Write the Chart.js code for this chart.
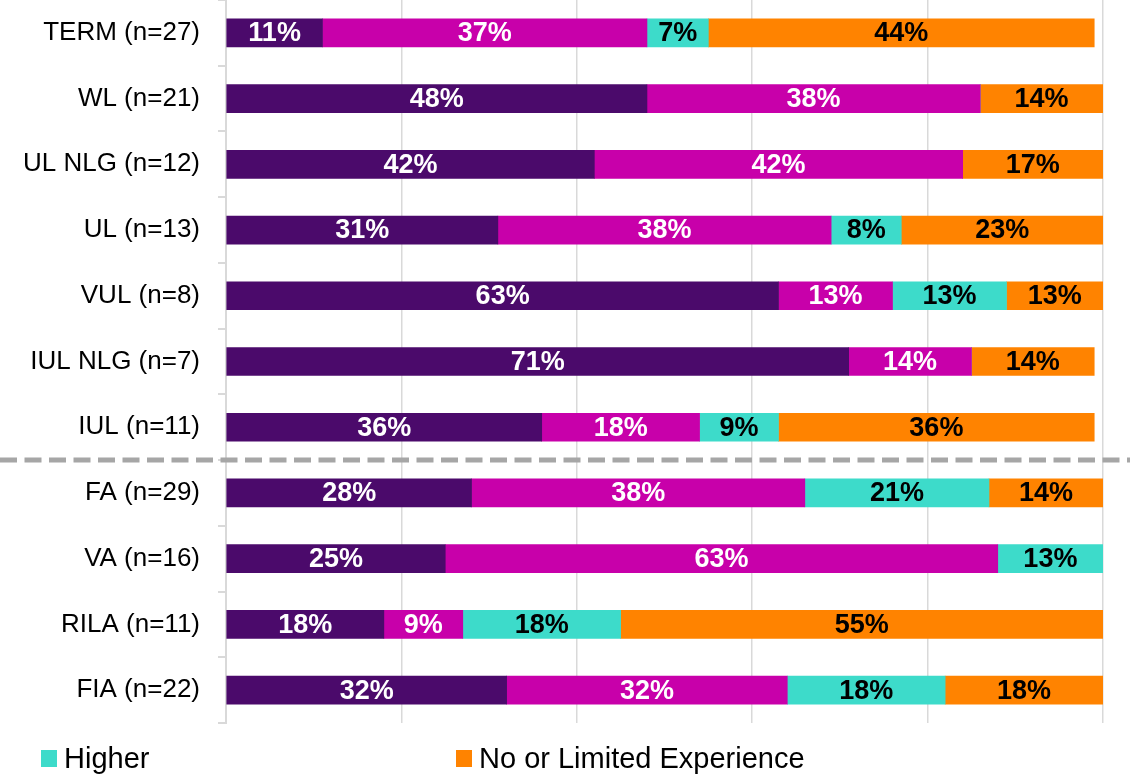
<!DOCTYPE html>
<html>
<head>
<meta charset="utf-8">
<script src="https://cdn.jsdelivr.net/npm/chart.js@4/dist/chart.umd.min.js"></script>
<style>
  html, body { margin: 0; padding: 0; background: #ffffff; }
  #wrap { width: 1130px; height: 774px; position: relative; }
</style>
</head>
<body>
<div id="wrap"><canvas id="chart" width="1130" height="774"></canvas></div>
<script>
// Product lines with respondent counts
const categories = [
  'TERM (n=27)', 'WL (n=21)', 'UL NLG (n=12)', 'UL (n=13)', 'VUL (n=8)',
  'IUL NLG (n=7)', 'IUL (n=11)', 'FA (n=29)', 'VA (n=16)', 'RILA (n=11)', 'FIA (n=22)'
];

// Share of respondents per answer (%)
const lowerShare  = [11, 48, 42, 31, 63, 71, 36, 28, 25, 18, 32];
const sameShare   = [37, 38, 42, 38, 13, 14, 18, 38, 63,  9, 32];
const higherShare = [ 7,  0,  0,  8, 13,  0,  9, 21, 13, 18, 18];
const noExpShare  = [44, 14, 17, 23, 13, 14, 36, 14,  0, 55, 18];

const xTicks = [0, 20, 40, 60, 80, 100];

// Index of the last life product; a dashed divider separates life from annuities
const lastLifeIndex = 6;

const FONT = '"Liberation Sans", Arial, sans-serif';

// Writes the percentage in the middle of each segment
const segmentLabels = {
  id: 'segmentLabels',
  afterDatasetsDraw(chart) {
    const ctx = chart.ctx;
    const area = chart.chartArea;
    ctx.save();
    ctx.font = 'bold 27px ' + FONT;
    ctx.textAlign = 'center';
    ctx.textBaseline = 'middle';
    chart.data.datasets.forEach((ds, di) => {
      const meta = chart.getDatasetMeta(di);
      if (meta.hidden) return;
      meta.data.forEach((el, i) => {
        const v = ds.data[i];
        if (!v) return;
        const p = el.getProps(['x', 'base', 'y'], true);
        const a = Math.max(Math.min(p.x, p.base), area.left);
        const b = Math.min(Math.max(p.x, p.base), area.right);
        ctx.fillStyle = ds.labelColor;
        ctx.fillText(v + '%', (a + b) / 2, p.y + 1);
      });
    });
    ctx.restore();
  }
};

// Dashed divider between life and annuity products
const groupDivider = {
  id: 'groupDivider',
  afterDraw(chart) {
    const y = chart.scales.y;
    const yy = (y.getPixelForValue(lastLifeIndex) + y.getPixelForValue(lastLifeIndex + 1)) / 2;
    const ctx = chart.ctx;
    ctx.save();
    ctx.strokeStyle = '#a6a6a6';
    ctx.lineWidth = 5;
    ctx.setLineDash([17, 7.5]);
    ctx.beginPath();
    ctx.moveTo(0, yy);
    ctx.lineTo(chart.width, yy);
    ctx.stroke();
    ctx.restore();
  }
};

// Bottom legend (only the two answer groups shown)
const bottomLegend = {
  id: 'bottomLegend',
  afterDraw(chart) {
    const ctx = chart.ctx;
    const items = [
      { ds: 2, box: 41, text: 64 },
      { ds: 3, box: 456, text: 479 }
    ];
    ctx.save();
    ctx.font = '29px ' + FONT;
    ctx.textAlign = 'left';
    ctx.textBaseline = 'alphabetic';
    items.forEach(it => {
      const ds = chart.data.datasets[it.ds];
      ctx.fillStyle = ds.backgroundColor;
      ctx.fillRect(it.box, 750, 16, 17);
      ctx.fillStyle = '#000000';
      ctx.fillText(ds.label, it.text, 768);
    });
    ctx.restore();
  }
};

new Chart(document.getElementById('chart'), {
  type: 'bar',
  data: {
    labels: categories,
    datasets: [
      { label: 'Lower', data: lowerShare, backgroundColor: '#4b0a6b', labelColor: '#ffffff' },
      { label: 'Same', data: sameShare, backgroundColor: '#c800aa', labelColor: '#ffffff' },
      { label: 'Higher', data: higherShare, backgroundColor: '#3ddbca', labelColor: '#000000' },
      { label: 'No or Limited Experience', data: noExpShare, backgroundColor: '#ff8300', labelColor: '#000000' }
    ]
  },
  options: {
    indexAxis: 'y',
    responsive: false,
    animation: false,
    layout: { padding: { left: 0, right: 27, top: 0, bottom: 51 } },
    datasets: { bar: { barThickness: 28, borderWidth: 0 } },
    plugins: {
      legend: { display: false },
      tooltip: { enabled: false }
    },
    scales: {
      x: {
        stacked: true,
        min: 0,
        max: 100,
        afterBuildTicks(scale) { scale.ticks = xTicks.map(v => ({ value: v })); },
        afterFit(scale) { scale.height = 0; scale.paddingLeft = 0; scale.paddingRight = 0; },
        ticks: { display: false },
        grid: { color: '#d9d9d9', lineWidth: 1.5, drawTicks: false },
        border: { display: false }
      },
      y: {
        stacked: true,
        afterFit(scale) { scale.width = 226; scale.paddingTop = 0; scale.paddingBottom = 0; },
        ticks: {
          color: '#000000',
          padding: 18,
          font: { family: FONT, size: 26 }
        },
        grid: {
          offset: true,
          drawOnChartArea: false,
          drawTicks: true,
          tickLength: 8,
          color: '#d9d9d9',
          lineWidth: 2
        },
        border: { display: true, color: '#d9d9d9', width: 2 }
      }
    }
  },
  plugins: [segmentLabels, groupDivider, bottomLegend]
});
</script>
</body>
</html>
